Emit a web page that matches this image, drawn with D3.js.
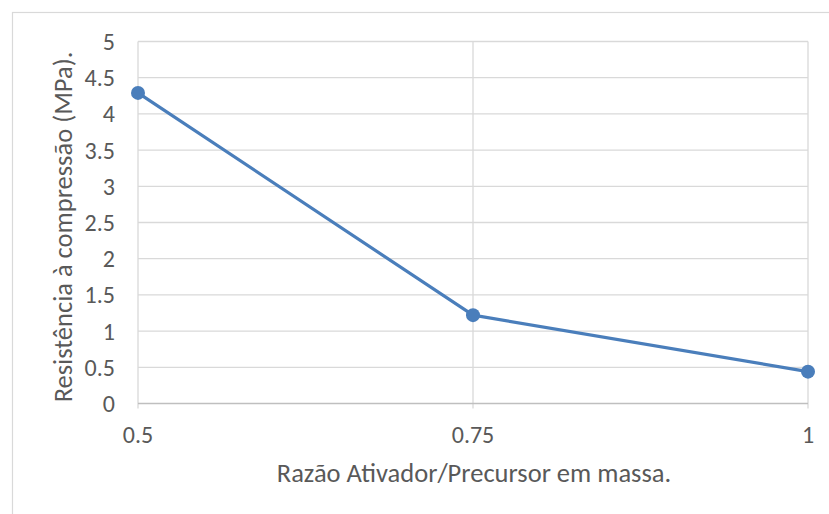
<!DOCTYPE html>
<html>
<head>
<meta charset="utf-8">
<script src="https://cdn.jsdelivr.net/npm/d3@7"></script>
<style>
  body { margin: 0; background: #fff; }
  text { font-family: Calibri, Carlito, "Liberation Sans", sans-serif; fill: #595959; }
</style>
</head>
<body>
<svg width="829" height="514"></svg>
<script>
  // data
  const ratios = ['0.5', '0.75', '1'];
  const strength = [4.29, 1.22, 0.44];
  const yTicks = [0, 0.5, 1, 1.5, 2, 2.5, 3, 3.5, 4, 4.5, 5];

  const svg = d3.select('svg');

  const plotL = 138, plotR = 808, plotT = 41.5, plotB = 403.5;

  // outer chart border
  svg.append('rect')
    .attr('x', 12.5).attr('y', 12.5)
    .attr('width', 840).attr('height', 540)
    .attr('fill', 'none').attr('stroke', '#d9d9d9').attr('stroke-width', 1.2);

  const x = d3.scalePoint().domain(ratios).range([plotL, plotR]);
  const y = d3.scaleLinear().domain([0, 5]).range([plotB, plotT]);

  const g = svg.append('g');

  // horizontal grid
  g.selectAll('line.hgrid')
    .data(yTicks.slice(1))
    .enter().append('line')
    .attr('class', 'hgrid')
    .attr('x1', plotL).attr('x2', plotR)
    .attr('y1', d => y(d)).attr('y2', d => y(d))
    .attr('stroke', '#d9d9d9').attr('stroke-width', 1.3);

  // vertical grid
  g.selectAll('line.vgrid')
    .data(ratios)
    .enter().append('line')
    .attr('class', 'vgrid')
    .attr('x1', d => x(d)).attr('x2', d => x(d))
    .attr('y1', plotT).attr('y2', plotB + 5)
    .attr('stroke', '#d9d9d9').attr('stroke-width', 1.3);

  // x axis line
  g.append('line')
    .attr('x1', plotL).attr('x2', plotR)
    .attr('y1', plotB).attr('y2', plotB)
    .attr('stroke', '#bfbfbf').attr('stroke-width', 1.3);

  // y tick labels
  g.selectAll('text.ylab')
    .data(yTicks)
    .enter().append('text')
    .attr('class', 'ylab')
    .attr('x', 115)
    .attr('y', d => y(d))
    .attr('dy', '0.35em')
    .attr('text-anchor', 'end')
    .style('font-size', '24px')
    .text(d => d);

  // x tick labels
  g.selectAll('text.xlab')
    .data(ratios)
    .enter().append('text')
    .attr('class', 'xlab')
    .attr('x', d => x(d))
    .attr('y', 443)
    .attr('text-anchor', 'middle')
    .style('font-size', '24px')
    .text(d => d);

  // axis titles
  svg.append('text')
    .attr('x', 474).attr('y', 482)
    .attr('text-anchor', 'middle')
    .style('font-size', '26.5px')
    .text('Razão Ativador/Precursor em massa.');

  svg.append('text')
    .attr('transform', 'translate(72,227) rotate(-90)')
    .attr('text-anchor', 'middle')
    .style('font-size', '26.5px')
    .text('Resistência à compressão (MPa).');

  const pts = ratios.map((r, i) => ({ r: r, v: strength[i] }));

  const line = d3.line().x(d => x(d.r)).y(d => y(d.v));

  g.append('path')
    .datum(pts)
    .attr('d', line)
    .attr('fill', 'none')
    .attr('stroke', '#4a7ebb')
    .attr('stroke-width', 3.2)
    .attr('stroke-linejoin', 'round');

  g.selectAll('circle')
    .data(pts)
    .enter().append('circle')
    .attr('cx', d => x(d.r))
    .attr('cy', d => y(d.v))
    .attr('r', 7)
    .attr('fill', '#4a7ebb');
</script>
</body>
</html>
